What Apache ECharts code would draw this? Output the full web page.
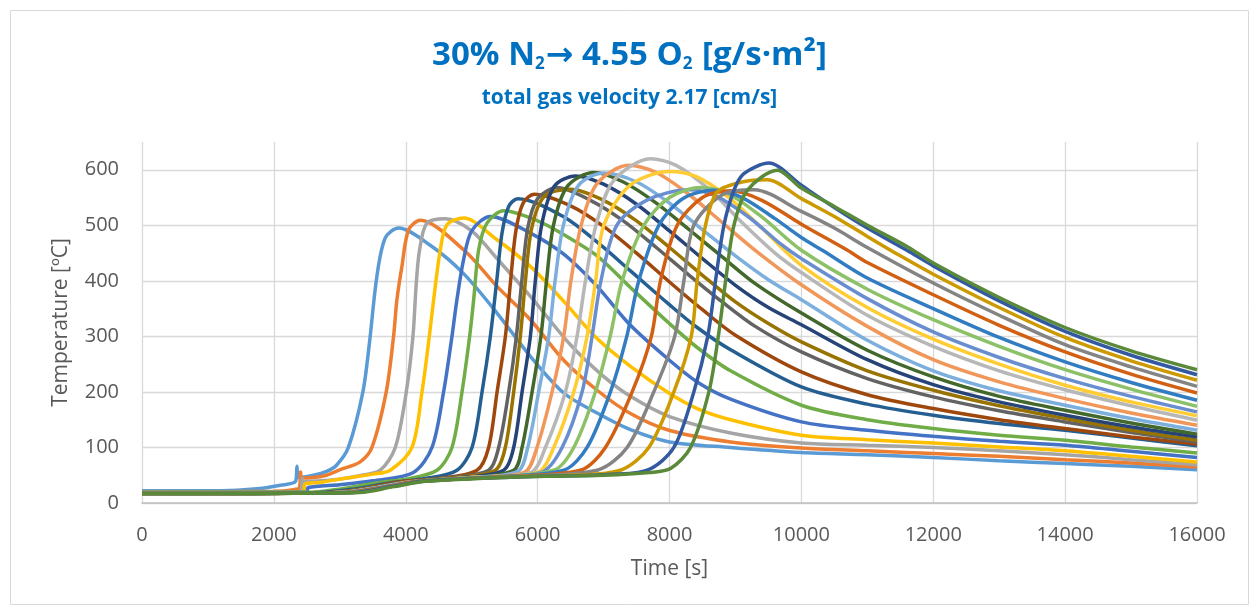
<!DOCTYPE html>
<html>
<head>
<meta charset="utf-8">
<script src="https://cdn.jsdelivr.net/npm/echarts@6/dist/echarts.min.js"></script>
<style>
html, body { margin: 0; padding: 0; background: #fff; }
#main { width: 1259px; height: 615px; }
</style>
</head>
<body>
<div id="main"></div>
<script>
// temperature curves, [time s, temperature C]
var s01 = [[0,22],[1200,22],[1700,25],[2100,32],[2330,39],[2350,66],[2370,46],[2600,50],[2800,57],[2950,68],[3130,100],[3350,200],[3451,290],[3562,408],[3689,477],[3890,495],[4372,464],[4877,413],[5384,342],[5890,264],[6396,198],[6902,162],[7408,132],[8000,110],[8926,100],[10000,91],[11000,87],[12000,82],[13000,76],[14000,71],[15000,66],[16000,60]];
var s02 = [[0,20],[2000,21],[2300,24],[2390,28],[2405,56],[2420,45],[2600,46],[2800,50],[3006,60],[3309,74],[3487,100],[3704,200],[3815,300],[3866,366],[3942,426],[4043,492],[4220,509],[4877,456],[5384,390],[5890,330],[6396,257],[6902,203],[7408,161],[7990,131],[8926,110],[10000,99],[11000,94],[12000,89],[13000,84],[14000,78],[15000,72],[16000,65]];
var s03 = [[0,19],[2400,20],[2420,25],[2430,44],[2445,38],[2700,40],[3000,43],[3300,49],[3613,59],[3841,100],[4008,200],[4109,300],[4160,396],[4210,456],[4321,504],[4600,512],[5000,490],[5384,440],[5890,372],[6497,285],[7000,228],[7408,192],[7990,156],[8926,126],[10000,108],[11000,104],[12000,100],[13000,94],[14000,87],[15000,78],[16000,69]];
var s04 = [[0,19],[2450,20],[2470,34],[2700,37],[3107,45],[3500,52],[3765,59],[4094,100],[4246,200],[4347,290],[4423,366],[4524,456],[4625,501],[4877,513],[5384,474],[5890,426],[6396,363],[6902,296],[7408,246],[7990,198],[8420,170],[8926,150],[10000,122],[11000,114],[12000,108],[13000,101],[14000,94],[15000,84],[16000,74]];
var s05 = [[0,19],[2500,20],[2520,28],[3000,33],[3500,40],[4116,55],[4398,100],[4574,200],[4701,300],[4776,366],[4877,438],[5000,490],[5283,516],[5890,486],[6396,448],[6902,390],[7408,320],[7990,258],[8420,218],[8926,187],[10000,146],[11000,131],[12000,120],[13000,111],[14000,104],[15000,93],[16000,82]];
var s06 = [[0,19],[2600,20],[3000,25],[3600,37],[4000,43],[4473,59],[4701,100],[4853,200],[4969,300],[5030,366],[5106,456],[5232,504],[5485,526],[6000,508],[6400,483],[6902,445],[7408,388],[7990,324],[8420,280],[8926,238],[10000,176],[11000,150],[12000,134],[13000,122],[14000,113],[15000,101],[16000,90]];
var s07 = [[0,18],[2700,19],[3200,25],[3800,37],[4300,44],[4777,59],[5005,100],[5157,200],[5283,300],[5380,400],[5460,486],[5561,534],[5700,548],[6400,515],[6900,470],[7408,418],[7990,358],[8420,316],[8926,276],[10000,209],[11000,178],[12000,158],[13000,143],[14000,131],[15000,117],[16000,103]];
var s08 = [[0,18],[2800,19],[3300,25],[3900,38],[4500,44],[5080,59],[5257,100],[5385,200],[5511,300],[5590,400],[5670,490],[5780,540],[5950,556],[6500,535],[7000,498],[7500,450],[8000,398],[8500,348],[9000,302],[10000,236],[11000,195],[12000,170],[13000,150],[14000,134],[15000,119],[16000,106]];
var s09 = [[0,18],[2900,19],[3400,26],[4000,38],[4600,45],[5257,59],[5409,100],[5561,200],[5678,300],[5760,400],[5850,495],[6000,548],[6295,568],[6800,545],[7300,508],[7800,460],[8300,410],[8800,362],[9300,318],[10000,272],[11000,224],[12000,191],[13000,166],[14000,146],[15000,127],[16000,110]];
var s10 = [[0,18],[2900,19],[3400,26],[4000,38],[4700,45],[5358,59],[5510,100],[5637,200],[5738,300],[5815,400],[5910,495],[6100,552],[6500,565],[7000,545],[7500,508],[8000,460],[8500,410],[9000,362],[9500,323],[10000,290],[11000,238],[12000,203],[13000,175],[14000,152],[15000,131],[16000,113]];
var s11 = [[0,18],[3000,19],[3500,27],[4000,37],[4800,45],[5485,59],[5637,100],[5764,200],[5890,300],[5965,400],[6060,500],[6250,570],[6573,589],[7000,574],[7500,538],[8000,490],[8500,440],[9000,392],[9500,352],[10000,321],[11000,258],[12000,213],[13000,182],[14000,158],[15000,137],[16000,119]];
var s12 = [[0,17],[3000,19],[3500,27],[4000,37],[4900,45],[5637,59],[5764,100],[5916,200],[6050,300],[6135,400],[6240,500],[6450,570],[6851,595],[7300,578],[7800,540],[8300,492],[8800,443],[9300,395],[10000,342],[11000,275],[12000,227],[13000,192],[14000,167],[15000,144],[16000,124]];
var s13 = [[0,17],[3000,19],[3500,27],[4000,37],[5000,46],[5700,57],[5850,100],[6016,200],[6168,300],[6265,400],[6390,500],[6620,572],[7000,594],[7500,578],[8000,540],[8500,492],[9000,445],[9500,402],[10000,366],[11000,293],[12000,238],[13000,202],[14000,176],[15000,152],[16000,131]];
var s14 = [[0,17],[3000,19],[3600,28],[4000,37],[5000,46],[5800,55],[5990,100],[6219,200],[6396,300],[6505,400],[6660,500],[6900,575],[7380,608],[7800,595],[8300,555],[8800,505],[9300,455],[10000,393],[11000,318],[12000,258],[13000,218],[14000,188],[15000,162],[16000,140]];
var s15 = [[0,17],[3000,19],[3600,28],[4100,38],[5000,46],[5900,55],[6118,100],[6421,200],[6598,300],[6725,400],[6885,500],[7150,580],[7711,620],[8100,608],[8600,565],[9100,505],[9600,450],[10000,415],[11000,338],[12000,282],[13000,238],[14000,204],[15000,175],[16000,149]];
var s16 = [[0,17],[3000,19],[3600,28],[4100,38],[5000,46],[6000,55],[6244,100],[6548,200],[6750,300],[6880,400],[7003,500],[7400,572],[8000,597],[8400,588],[8900,550],[9400,495],[10000,428],[11000,352],[12000,295],[13000,250],[14000,212],[15000,182],[16000,157]];
var s17 = [[0,17],[3000,19],[3600,28],[4100,38],[5100,46],[6050,55],[6371,100],[6674,200],[6826,300],[6960,400],[7200,500],[7650,545],[8293,564],[8700,553],[9200,515],[9700,465],[10000,440],[11000,368],[12000,308],[13000,262],[14000,224],[15000,192],[16000,164]];
var s18 = [[0,17],[3100,19],[3700,29],[4200,39],[5200,46],[6244,59],[6548,100],[6876,200],[7100,300],[7282,400],[7610,500],[8000,550],[8470,568],[8900,556],[9400,515],[10000,455],[11000,385],[12000,330],[13000,282],[14000,240],[15000,205],[16000,174]];
var s19 = [[0,17],[3100,19],[3700,29],[4200,39],[5300,47],[6396,59],[6750,100],[7104,200],[7352,300],[7534,400],[7838,500],[8200,548],[8672,563],[9100,550],[9600,512],[10000,478],[10318,455],[11000,405],[12000,350],[13000,298],[14000,254],[15000,217],[16000,185]];
var s20 = [[0,17],[3100,19],[3700,29],[4200,39],[5400,47],[6649,59],[7028,100],[7434,200],[7725,300],[7863,400],[8117,500],[8500,550],[8926,562],[9400,545],[10000,502],[10700,455],[11000,433],[12000,375],[13000,320],[14000,272],[15000,232],[16000,198]];
var s21 = [[0,17],[3200,19],[3800,30],[4300,40],[5500,47],[6902,59],[7357,100],[7762,200],[8079,300],[8218,400],[8369,500],[8800,555],[9280,564],[10000,525],[10500,495],[11000,460],[12000,396],[13000,338],[14000,285],[15000,245],[16000,210]];
var s22 = [[0,17],[3200,19],[3800,30],[4300,40],[5600,47],[6500,50],[7256,59],[7686,100],[8066,200],[8330,300],[8420,400],[8546,500],[8724,560],[9100,578],[9483,582],[10000,548],[10500,516],[11000,480],[11500,445],[12000,412],[13000,352],[14000,298],[15000,256],[16000,221]];
var s23 = [[0,17],[3200,19],[3800,30],[4300,40],[5700,47],[7000,51],[7661,59],[8066,100],[8369,200],[8580,300],[8698,400],[8825,500],[8977,563],[9128,593],[9507,612],[10000,572],[10500,532],[11000,495],[11600,455],[12000,427],[13000,364],[14000,309],[15000,266],[16000,231]];
var s24 = [[0,17],[3300,19],[3800,29],[4300,39],[5700,47],[7000,50],[7700,55],[8015,62],[8319,100],[8597,200],[8740,300],[8851,400],[8977,500],[9179,563],[9635,599],[10000,567],[10500,534],[11000,500],[11600,462],[12000,432],[13000,370],[14000,316],[15000,274],[16000,240]];

var curves = [s01,s02,s03,s04,s05,s06,s07,s08,s09,s10,s11,s12,s13,s14,s15,s16,s17,s18,s19,s20,s21,s22,s23,s24];

// office palette, 24 series
var palette = ['#5B9BD5','#ED7D31','#A5A5A5','#FFC000','#4472C4','#70AD47',
               '#255E91','#9E480E','#636363','#997300','#264478','#43682B',
               '#7CAFDD','#F1975A','#B7B7B7','#FFCD33','#698ED0','#8CC168',
               '#327DC2','#D26012','#848484','#CC9A00','#335AA1','#5A8A39'];

var font = "'Open Sans', 'Noto Sans', 'DejaVu Sans', sans-serif";
var blue = '#0070C0';
var grey = '#595959';

var myChart = echarts.init(document.getElementById('main'));

var series = [];
curves.forEach(function (d, i) {
	series.push({
		name: 'S' + (i + 1),
		type: 'line',
		data: d,
		smooth: 0.3,
		symbol: 'none',
		silent: true,
		lineStyle: { width: 3.5, color: palette[i] },
		itemStyle: { color: palette[i] }
	});
});

var option = {
	animation: false,
	backgroundColor: '#fff',
	title: [{
		text: '{a|30% N}{s|2}{a|\u2192 4.55 O}{s|2}{a| [g/s\u00B7m\u00B2]}',
		left: 'center',
		top: 31,
		textStyle: {
			rich: {
				a: { fontFamily: font, fontSize: 33, fontWeight: 'bold', color: blue, lineHeight: 40 },
				s: { fontFamily: font, fontSize: 17, fontWeight: 'bold', color: blue, lineHeight: 24, verticalAlign: 'bottom', padding: [0, 1, 3, 0] }
			}
		}
	}, {
		text: 'total gas velocity 2.17 [cm/s]',
		left: 'center',
		top: 83,
		textStyle: { fontFamily: font, fontSize: 21, fontWeight: 'bold', color: blue }
	}],
	graphic: [{
		type: 'rect',
		shape: { x: 10.5, y: 10.5, width: 1238, height: 594 },
		style: { fill: null, stroke: '#D9D9D9', lineWidth: 1 },
		silent: true
	}],
	grid: { left: 142, right: 62, top: 142, bottom: 112 },
	xAxis: {
		type: 'value',
		min: 0,
		max: 16000,
		interval: 2000,
		name: 'Time [s]',
		nameLocation: 'middle',
		nameGap: 56,
		nameTextStyle: { fontFamily: font, fontSize: 21, color: grey },
		axisLine: { show: true, lineStyle: { color: '#BFBFBF', width: 1.5 } },
		axisTick: { show: false },
		axisLabel: {
			fontFamily: font, fontSize: 20, color: grey, margin: 22,
			formatter: function (v) { return String(v); }
		},
		splitLine: { show: true, lineStyle: { color: '#D9D9D9', width: 1.3 } }
	},
	yAxis: {
		type: 'value',
		min: 0,
		max: 650,
		interval: 100,
		name: 'Temperature [\u00BAC]',
		nameLocation: 'middle',
		nameGap: 70,
		nameTextStyle: { fontFamily: font, fontSize: 21, color: grey },
		axisLine: { show: false },
		axisTick: { show: false },
		axisLabel: {
			fontFamily: font, fontSize: 20, color: grey, margin: 23,
			formatter: function (v) { return v > 600 ? '' : String(v); }
		},
		splitLine: { show: true, showMaxLine: false, lineStyle: { color: '#D9D9D9', width: 1.3 } }
	},
	series: series
};

myChart.setOption(option);
</script>
</body>
</html>
